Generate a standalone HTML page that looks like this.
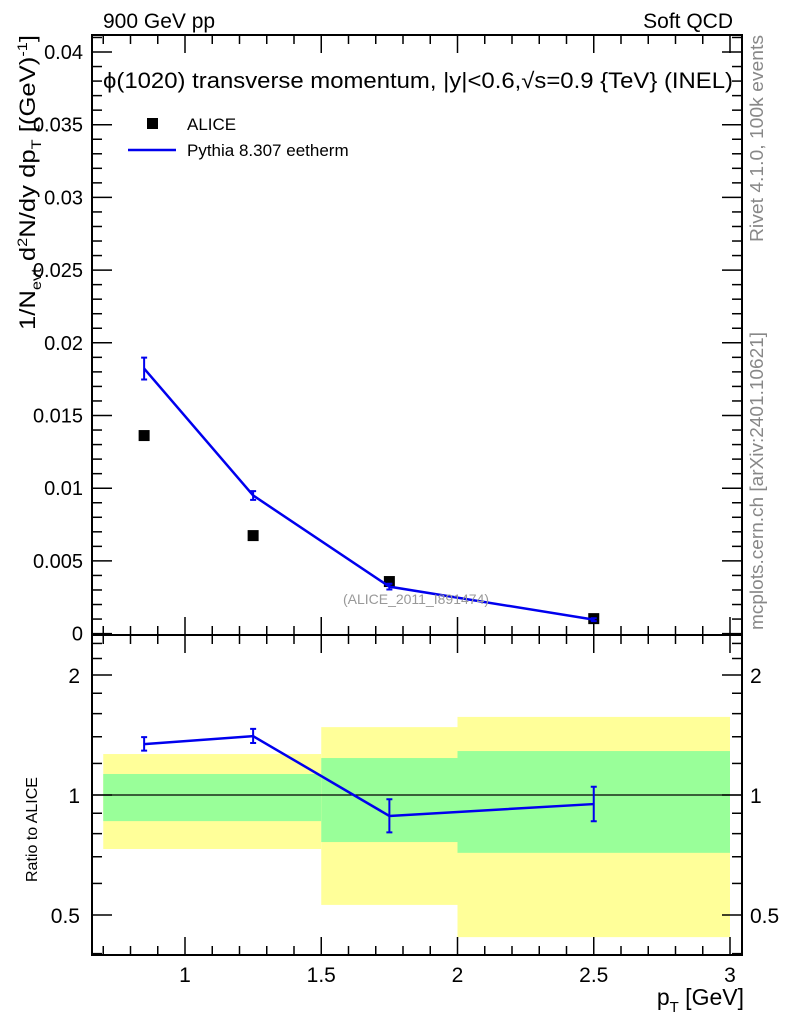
<!DOCTYPE html>
<html><head><meta charset="utf-8">
<style>
body{margin:0;background:#fff;}
svg{display:block;font-family:"Liberation Sans",sans-serif;}
</style></head>
<body>
<svg id="chart" width="786" height="1024" viewBox="0 0 786 1024">
</svg>
<script>
const categories = [0.85, 1.25, 1.75, 2.5];
const aliceValues = [0.01362, 0.00674, 0.00358, 0.00103];
const pythiaValues = [0.01823, 0.0095, 0.00323, 0.00096];
const pythiaErrors = [0.00075, 0.0003, 0.0002, 0.0001];
const ratioValues = [1.342, 1.405, 0.886, 0.949];
const ratioErrLo = [0.05, 0.055, 0.08, 0.09];
const ratioErrHi = [0.055, 0.06, 0.09, 0.1];
const binEdges = [0.7, 1.5, 2.0, 3.0];
const greenLo = [0.86, 0.762, 0.716];
const greenHi = [1.129, 1.238, 1.289];
const yellowLo = [0.732, 0.53, 0.44];
const yellowHi = [1.267, 1.48, 1.57];
const mainTicks = [0, 0.005, 0.01, 0.015, 0.02, 0.025, 0.03, 0.035, 0.04];
const mainTickLabels = ["0","0.005","0.01","0.015","0.02","0.025","0.03","0.035","0.04"];
const xTicks = [1, 1.5, 2, 2.5, 3];
const xTickLabels = ["1","1.5","2","2.5","3"];
const ratioTicks = [0.5, 1, 2];
const ratioTickLabels = ["0.5","1","2"];

const L=92,R=742,MT=35,MB=635,RB=955;
const X=v=>185+(v-1)*272.5;
const Y=v=>633.6-v*14540;
const RY=v=>795-Math.log2(v)*120;
const svg=document.getElementById('chart');
const NS='http://www.w3.org/2000/svg';
function mk(tag,attrs,parent){const e=document.createElementNS(NS,tag);for(const k in attrs)e.setAttribute(k,attrs[k]);(parent||svg).appendChild(e);return e;}
function txt(s,attrs){const e=mk('text',attrs);e.textContent=s;return e;}

for(let i=0;i<3;i++){
 let r=mk('rect',{x:X(binEdges[i]),y:RY(yellowHi[i]),width:X(binEdges[i+1])-X(binEdges[i]),height:RY(yellowLo[i])-RY(yellowHi[i]),fill:'#ffff99'});
 
 
 let g=mk('rect',{x:X(binEdges[i]),y:RY(greenHi[i]),width:X(binEdges[i+1])-X(binEdges[i]),height:RY(greenLo[i])-RY(greenHi[i]),fill:'#99ff99'});
 
 
}
let one=mk('line',{x1:L,x2:R,y1:RY(1),y2:RY(1),stroke:'#000','stroke-width':1.2});



let f1=mk('rect',{x:L,y:MT,width:R-L,height:MB-MT,fill:'none',stroke:'#000','stroke-width':2});


let f2=mk('rect',{x:L,y:MB,width:R-L,height:RB-MB,fill:'none',stroke:'#000','stroke-width':2});



for(let v=0.7;v<=3.04;v+=0.1){
 const maj=Math.abs(v*2-Math.round(v*2))<1e-6;
 const len=maj?18:9;
 for(const [yb,dir] of [[MB,-1],[MT,1],[RB,-1],[MB,1]]){
  mk('line',{x1:X(v),x2:X(v),y1:yb,y2:yb+dir*len,stroke:'#000','stroke-width':1.5});
 }
}
xTicks.forEach((v,i)=>{let t=txt(xTickLabels[i],{x:X(v),y:982,'font-size':21,'text-anchor':'middle'});
 });

for(let v=0;v<=0.0412;v+=0.001){
 const maj=Math.abs(v/0.005-Math.round(v/0.005))<1e-6;
 const len=maj?20:10;
 mk('line',{x1:L,x2:L+len,y1:Y(v),y2:Y(v),stroke:'#000','stroke-width':1.5});
 mk('line',{x1:R,x2:R-len,y1:Y(v),y2:Y(v),stroke:'#000','stroke-width':1.5});
}
mainTicks.forEach((v,i)=>{let t=txt(mainTickLabels[i],{x:83,y:Y(v)+7,'font-size':20,'text-anchor':'end'});
 });

const rMinor=[0.4,0.5,0.6,0.7,0.8,0.9,1,1.2,1.4,1.6,1.8,2,2.2,2.4];
rMinor.forEach(v=>{const maj=ratioTicks.includes(v);const len=maj?20:10;
 mk('line',{x1:L,x2:L+len,y1:RY(v),y2:RY(v),stroke:'#000','stroke-width':1.5});
 mk('line',{x1:R,x2:R-len,y1:RY(v),y2:RY(v),stroke:'#000','stroke-width':1.5});});
ratioTicks.forEach((v,i)=>{
 let t=txt(ratioTickLabels[i],{x:80,y:RY(v)+8,'font-size':21,'text-anchor':'end'});
 
 let t2=txt(ratioTickLabels[i],{x:750,y:RY(v)+8,'font-size':21});
 });

categories.forEach((c,i)=>{let r=mk('rect',{x:X(c)-5.5,y:Y(aliceValues[i])-5.5,width:11,height:11,fill:'#000'});
 });
let pl=mk('polyline',{points:categories.map((c,i)=>X(c)+','+Y(pythiaValues[i])).join(' '),fill:'none',stroke:'#0000ee','stroke-width':2.5});

categories.forEach((c,i)=>{
 const y1=Y(pythiaValues[i]+pythiaErrors[i]),y2=Y(pythiaValues[i]-pythiaErrors[i]);
 let e=mk('path',{d:`M${X(c)},${y1}V${y2}M${X(c)-3},${y1}h6M${X(c)-3},${y2}h6`,stroke:'#0000ee','stroke-width':2,fill:'none'});
 });
let rl=mk('polyline',{points:categories.map((c,i)=>X(c)+','+RY(ratioValues[i])).join(' '),fill:'none',stroke:'#0000ee','stroke-width':2.5});

categories.forEach((c,i)=>{
 const y1=RY(ratioValues[i]+ratioErrHi[i]),y2=RY(ratioValues[i]-ratioErrLo[i]);
 let e=mk('path',{d:`M${X(c)},${y1}V${y2}M${X(c)-3},${y1}h6M${X(c)-3},${y2}h6`,stroke:'#0000ee','stroke-width':2,fill:'none'});
 });
</script>
<div style="position:absolute;left:0;top:0;width:786px;height:1024px;pointer-events:none">
<svg width="786" height="1024" style="font-family:'Liberation Sans',sans-serif">
<text x="103" y="28" font-size="21">900 GeV pp</text>
<text x="733" y="28" font-size="21" text-anchor="end">Soft QCD</text>
<text x="103" y="88" font-size="22" textLength="630" lengthAdjust="spacingAndGlyphs">ϕ(1020) transverse momentum, |y|&lt;0.6,√s=0.9 {TeV} (INEL)</text>
<rect x="147" y="118" width="11" height="11" fill="#000"/>
<text x="187" y="130" font-size="17">ALICE</text>
<line x1="128" x2="176" y1="150" y2="150" stroke="#0000ee" stroke-width="2.5"/>
<text x="187" y="156" font-size="17">Pythia 8.307 eetherm</text>
<text x="416" y="604" font-size="14" fill="#999" text-anchor="middle">(ALICE_2011_I891474)</text>
<text transform="translate(35,330) rotate(-90)" font-size="22" textLength="295" lengthAdjust="spacingAndGlyphs">1/N<tspan font-size="14" dy="6">evt</tspan><tspan dy="-6"> d</tspan><tspan font-size="14" dy="-8">2</tspan><tspan dy="8">N/dy dp</tspan><tspan font-size="14" dy="6">T</tspan><tspan dy="-6"> [(GeV)</tspan><tspan font-size="14" dy="-8">-1</tspan><tspan dy="8">]</tspan></text>
<text transform="translate(37,882) rotate(-90)" font-size="16">Ratio to ALICE</text>
<text x="744" y="1005" font-size="23" text-anchor="end">p<tspan font-size="15" dy="7">T</tspan><tspan dy="-7"> [GeV]</tspan></text>
<text transform="translate(763,242) rotate(-90)" font-size="18" fill="#888" textLength="207" lengthAdjust="spacingAndGlyphs">Rivet 4.1.0,  100k events</text>
<text transform="translate(763,630) rotate(-90)" font-size="18" fill="#888" textLength="298" lengthAdjust="spacingAndGlyphs">mcplots.cern.ch [arXiv:2401.10621]</text>
</svg></div>
</body></html>
